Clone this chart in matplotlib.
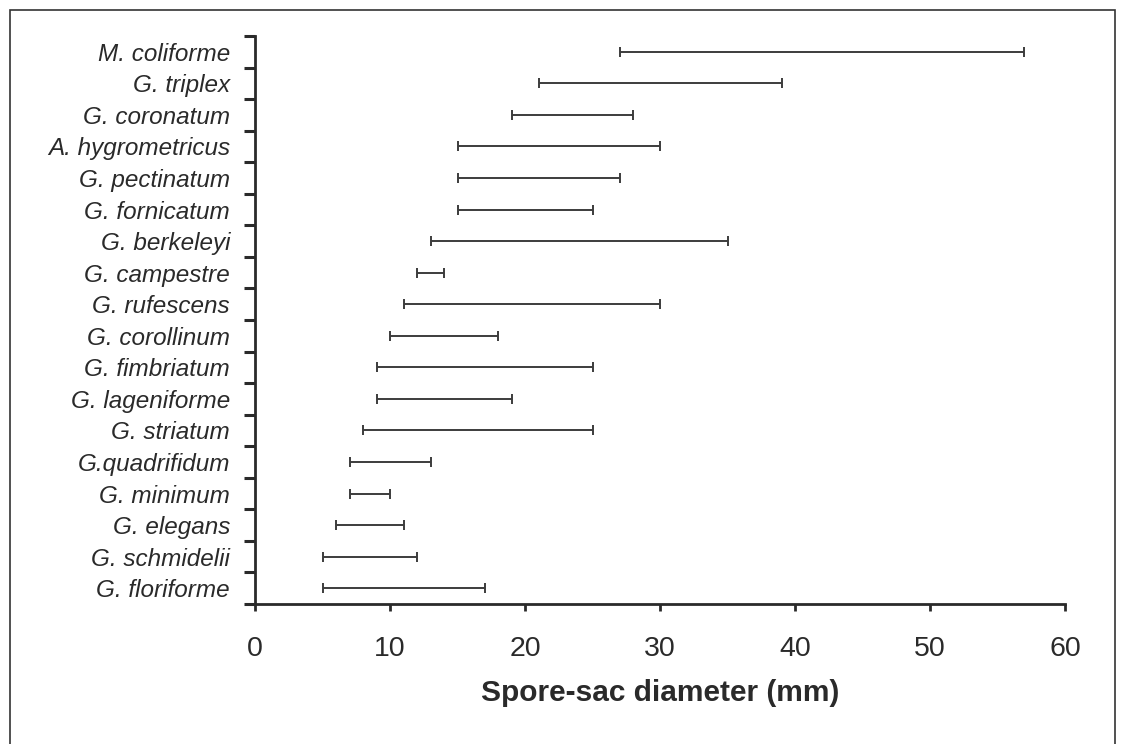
import matplotlib
matplotlib.use("Agg")
import matplotlib.pyplot as plt
from matplotlib.patches import Rectangle
from matplotlib.ticker import FixedLocator

plt.rcParams["font.family"] = ["Liberation Sans", "DejaVu Sans"]

# species listed bottom to top, with min/max spore-sac diameter (mm)
species = ["G. floriforme", "G. schmidelii", "G. elegans", "G. minimum",
           "G.quadrifidum", "G. striatum", "G. lageniforme", "G. fimbriatum",
           "G. corollinum", "G. rufescens", "G. campestre", "G. berkeleyi",
           "G. fornicatum", "G. pectinatum", "A. hygrometricus", "G. coronatum",
           "G. triplex", "M. coliforme"]
low = [5, 5, 6, 7, 7, 8, 9, 9, 10, 11, 12, 13, 15, 15, 15, 19, 21, 27]
high = [17, 12, 11, 10, 13, 25, 19, 25, 18, 30, 14, 35, 25, 27, 30, 28, 39, 57]

xticks = [0, 10, 20, 30, 40, 50, 60]

ink = "#2a2a2a"
bar_col = "#3c3c3c"

fig = plt.figure(figsize=(11.24, 7.44), dpi=100)
ax = fig.add_axes([0.2269, 0.1882, 0.7206, 0.7634])

pos = list(range(len(species)))
mid = [(a + b) / 2 for a, b in zip(low, high)]
half = [(b - a) / 2 for a, b in zip(low, high)]
ax.errorbar(mid, pos, xerr=half, fmt="none", ecolor=bar_col,
            elinewidth=1.4, capsize=3.8, capthick=1.4)

ax.set_xlim(0, 60)
ax.set_ylim(-0.5, len(species) - 0.5)

ax.set_xticks(xticks)
ax.set_xticklabels([str(t) for t in xticks], fontsize=20.5, color=ink)
ax.tick_params(axis="x", direction="out", length=5, width=2, color=ink, pad=18)

# labels sit between the boundary tick marks
ax.set_yticks(pos)
ax.set_yticklabels(species, fontsize=17.5, style="italic", color=ink)
ax.tick_params(axis="y", which="major", length=0, pad=18)
ax.yaxis.set_minor_locator(FixedLocator([p - 0.5 for p in pos] + [len(species) - 0.5]))
ax.tick_params(axis="y", which="minor", direction="out", length=8, width=2.2, color=ink)

for side in ["top", "right"]:
    ax.spines[side].set_visible(False)
for side in ["left", "bottom"]:
    ax.spines[side].set_linewidth(2)
    ax.spines[side].set_color(ink)

ax.set_xlabel("Spore-sac diameter (mm)", fontsize=21.5, fontweight="bold",
              color=ink, labelpad=12)

# outer frame around the figure
frame = Rectangle((10 / 1124, -0.05), (1115 - 10) / 1124, 1.05 - 10 / 744,
                  transform=fig.transFigure, fill=False, edgecolor="#333333",
                  linewidth=1.2, clip_on=False)
fig.patches.append(frame)

fig.savefig("out.png", dpi=100, facecolor="white")
